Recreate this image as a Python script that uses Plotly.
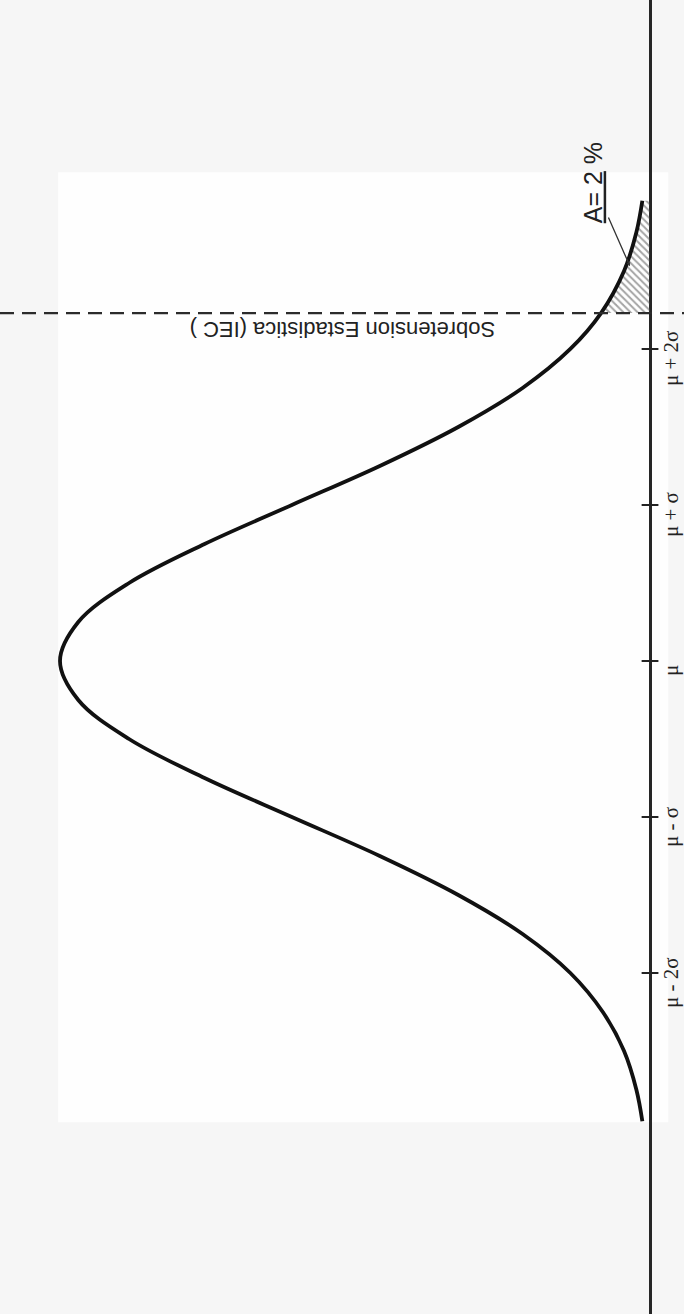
import plotly.graph_objects as go

# --- data (z in sigma units, relative density with peak = 1) ---
z_sigma = [-2.95, -2.75, -2.5, -2.25, -2.0, -1.75, -1.5, -1.25, -1.0, -0.75, -0.5, -0.25,
           0.0, 0.25, 0.5, 0.75, 1.0, 1.25, 1.5, 1.75, 2.0, 2.23, 2.5, 2.75, 2.95]
density = [0.013, 0.023, 0.044, 0.080, 0.135, 0.216, 0.325, 0.458, 0.607, 0.755, 0.883, 0.969,
           1.000, 0.969, 0.883, 0.755, 0.607, 0.458, 0.325, 0.216, 0.135, 0.083, 0.044, 0.023, 0.013]

tick_z = [-2, -1, 0, 1, 2]
tick_labels = ["μ - 2σ", "μ - σ", "μ", "μ + σ", "μ + 2σ"]

iec_level_z = 2.23          # statistical overvoltage (dashed line)
iec_label = "Sobretension Estadistica (IEC )"
area_label = "<span style='text-decoration:underline'>A= 2</span> %"

tail_z = [z for z in z_sigma if z >= iec_level_z]
tail_d = [d for z, d in zip(z_sigma, density) if z >= iec_level_z]

fig = go.Figure()

# hatched tail area
fig.add_trace(go.Scatter(
    x=tail_d, y=tail_z, mode="lines", line=dict(width=0, color="rgba(0,0,0,0)"),
    fill="tozerox", fillcolor="rgba(0,0,0,0)",
    fillpattern=dict(shape="\\", fgcolor="#4a4a4a", bgcolor="rgba(255,255,255,0)",
                     size=5, solidity=0.4),
    hoverinfo="skip", showlegend=False))

# the bell curve
fig.add_trace(go.Scatter(
    x=density, y=z_sigma, mode="lines",
    line=dict(color="#111111", width=3.8, shape="spline", smoothing=1.0),
    showlegend=False))

# tick marks on the axis
fig.add_trace(go.Scatter(
    x=[0] * len(tick_z), y=tick_z, mode="markers",
    marker=dict(symbol="line-ew", size=12, line=dict(width=2, color="#222")),
    showlegend=False, hoverinfo="skip"))

# tick labels (handwritten, rotated)
for tz, lab in zip(tick_z, tick_labels):
    fig.add_annotation(x=-0.0356, y=tz, text=lab, showarrow=False, textangle=-90,
                       yshift=-10,
                       font=dict(family="Liberation Serif", size=21, color="#222"),
                       xanchor="center", yanchor="middle")

# dashed statistical overvoltage line
fig.add_shape(type="line", xref="paper", x0=0, x1=1, yref="y", y0=iec_level_z, y1=iec_level_z,
              line=dict(color="#2b2b2b", width=2.2, dash="14px,8px"), layer="above")

fig.add_annotation(x=0.521, y=iec_level_z, text=iec_label, showarrow=False, textangle=180,
                   xanchor="center", yanchor="middle", yshift=-17,
                   font=dict(family="Liberation Sans", size=22, color="#222"))

# A = 2 % label with leader
fig.add_annotation(x=0.034, y=2.53, text=area_label, showarrow=True, textangle=-90,
                   ax=-37, ay=-84, arrowhead=2, arrowsize=0.6, arrowwidth=1.3,
                   arrowcolor="#333",
                   font=dict(family="Liberation Sans", size=25, color="#222"))

# scanned-page background panel
fig.add_shape(type="rect", xref="paper", yref="paper", x0=0.085, x1=0.977, y0=0.146, y1=0.869,
              fillcolor="#fefefe", line=dict(width=0), layer="below")

fig.update_layout(
    width=684, height=1314, margin=dict(l=0, r=0, t=0, b=0),
    paper_bgcolor="#f6f6f6", plot_bgcolor="rgba(0,0,0,0)",
    showlegend=False,
    xaxis=dict(range=[1.1017, -0.0576], showgrid=False, showticklabels=False, ticks="",
               zeroline=True, zerolinecolor="#262626", zerolinewidth=2.5),
    yaxis=dict(range=[-4.186, 4.237], showgrid=False, showticklabels=False, ticks="",
               zeroline=False),
)

fig.write_html("out.html")
